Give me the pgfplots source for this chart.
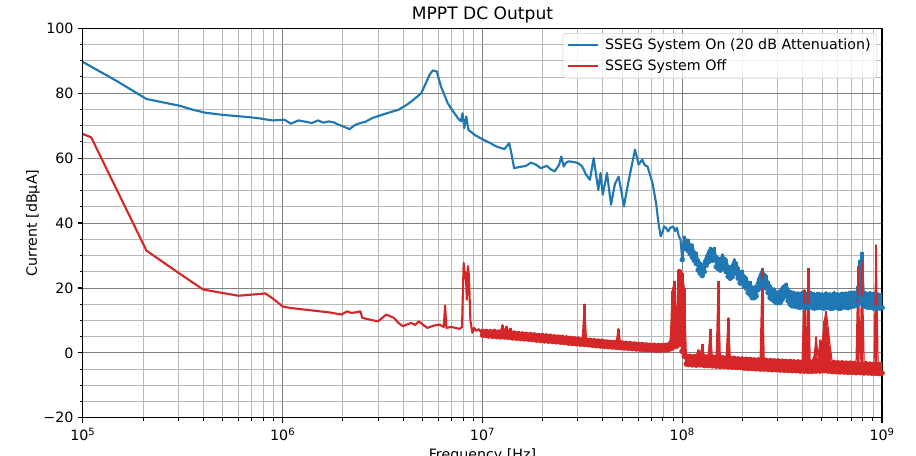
\documentclass[border=0pt]{standalone}
\usepackage{pgfplots}
\pgfplotsset{compat=1.18}
\usepackage{pgfplotstable}
\usepackage{fontspec}
\setmainfont{DejaVu Sans}
\definecolor{mplblue}{HTML}{1F77B4}
\definecolor{mplred}{HTML}{D62728}

% red trace, 10 MHz - 100 MHz: max / min of the trace in each 0.01-decade bin
\pgfplotstableread{
f rmax rmin
1.000e7 7.3 5.5
1.023e7 7.0 5.4
1.047e7 7.3 5.6
1.072e7 6.9 5.2
1.096e7 7.2 5.4
1.122e7 6.8 5.1
1.148e7 7.3 5.5
1.175e7 6.8 5.0
1.202e7 7.1 5.3
1.230e7 6.7 4.9
1.259e7 8.7 5.2
1.288e7 6.7 4.9
1.318e7 8.2 5.0
1.349e7 6.6 4.8
1.380e7 7.6 4.9
1.413e7 6.4 4.6
1.445e7 6.8 4.9
1.479e7 6.3 4.5
1.514e7 6.6 4.7
1.549e7 6.2 4.4
1.585e7 6.5 4.6
1.622e7 6.1 4.3
1.660e7 6.4 4.5
1.698e7 6.0 4.2
1.738e7 6.3 4.4
1.778e7 5.9 4.1
1.820e7 6.2 4.3
1.862e7 5.8 3.9
1.905e7 6.0 4.2
1.950e7 5.7 3.8
1.995e7 6.0 4.1
2.042e7 5.6 3.7
2.089e7 5.9 4.0
2.138e7 5.5 3.6
2.188e7 5.8 3.8
2.239e7 5.4 3.5
2.291e7 5.6 3.7
2.344e7 5.3 3.4
2.399e7 5.5 3.6
2.455e7 5.2 3.3
2.512e7 5.4 3.4
2.570e7 5.0 3.2
2.630e7 5.3 3.3
2.692e7 4.9 3.0
2.754e7 5.1 3.2
2.818e7 4.8 2.9
2.884e7 5.0 3.1
2.951e7 4.7 2.8
3.020e7 4.9 3.0
3.090e7 4.5 2.7
3.162e7 4.7 2.8
3.236e7 15.0 2.6
3.311e7 4.6 2.7
3.388e7 4.3 2.5
3.467e7 4.5 2.6
3.548e7 4.2 2.3
3.631e7 4.4 2.5
3.715e7 4.1 2.2
3.802e7 4.3 2.4
3.890e7 4.0 2.1
3.981e7 4.2 2.3
4.074e7 3.9 2.0
4.169e7 4.0 2.2
4.266e7 3.8 1.9
4.365e7 3.9 2.1
4.467e7 3.7 1.8
4.571e7 3.8 2.0
4.677e7 3.6 1.7
4.786e7 7.5 1.9
4.898e7 3.5 1.6
5.012e7 3.7 1.8
5.129e7 3.4 1.5
5.248e7 3.6 1.7
5.370e7 3.3 1.4
5.495e7 3.5 1.6
5.623e7 3.2 1.3
5.754e7 3.4 1.5
5.888e7 3.1 1.2
6.026e7 3.3 1.4
6.166e7 3.0 1.1
6.310e7 3.2 1.3
6.457e7 2.9 1.0
6.607e7 3.1 1.2
6.761e7 2.8 1.0
6.918e7 3.0 1.1
7.079e7 2.8 0.9
7.244e7 3.0 1.0
7.413e7 2.7 0.8
7.586e7 2.9 1.0
7.762e7 2.7 0.8
7.943e7 2.9 1.0
8.128e7 2.8 0.9
8.318e7 3.0 1.0
8.511e7 2.9 1.0
8.710e7 4.0 1.3
8.913e7 19.0 1.5
9.120e7 22.0 2.0
9.333e7 8.0 2.0
9.550e7 25.6 2.5
9.772e7 25.6 3.0
1.000e8 24.6 0.5
}\midtable

% both traces, 100 MHz - 1 GHz: max / min of each trace in each 0.01-decade bin
\pgfplotstableread{
f bmax bmin rmax rmin
1.000e8 31.0 28.7 24.6 0.5
1.023e8 36.0 33.0 20.0 -1.0
1.047e8 35.0 32.0 -0.3 -3.4
1.072e8 35.0 31.5 -0.6 -3.6
1.096e8 33.5 30.5 -0.4 -3.3
1.122e8 33.5 29.5 -0.8 -3.7
1.148e8 31.5 28.5 -0.5 -3.5
1.175e8 31.0 27.5 -0.9 -3.8
1.202e8 29.0 25.5 1.0 -3.4
1.230e8 28.0 24.5 -0.7 -3.7
1.259e8 27.0 23.8 2.6 -3.5
1.288e8 28.5 25.0 -0.8 -3.9
1.318e8 30.0 27.0 -0.6 -3.6
1.349e8 31.5 28.0 -1.0 -3.9
1.380e8 32.5 29.5 7.2 -3.7
1.413e8 32.0 28.5 -0.9 -4.0
1.445e8 32.5 29.0 -0.7 -3.8
1.479e8 30.0 26.5 -1.1 -4.1
1.514e8 29.5 26.0 22.0 -3.9
1.549e8 29.0 25.5 -1.0 -4.2
1.585e8 30.5 27.0 -0.8 -3.9
1.622e8 29.5 26.0 -1.2 -4.2
1.660e8 29.0 25.0 -0.9 -4.0
1.698e8 27.0 23.5 10.8 -4.3
1.738e8 26.5 23.0 -1.1 -4.1
1.778e8 27.5 23.5 -1.3 -4.4
1.820e8 29.0 25.5 -1.0 -4.2
1.862e8 28.0 24.5 -1.4 -4.5
1.905e8 26.5 23.0 -1.2 -4.3
1.950e8 25.0 21.5 -1.5 -4.5
1.995e8 25.5 22.0 -1.2 -4.4
2.042e8 24.0 20.5 -1.6 -4.7
2.089e8 23.5 20.0 -1.3 -4.5
2.138e8 22.0 18.5 -1.6 -4.8
2.188e8 22.0 18.0 -1.4 -4.6
2.239e8 20.5 17.0 -1.7 -4.8
2.291e8 20.5 17.0 -1.5 -4.7
2.344e8 21.0 17.5 -1.8 -4.9
2.399e8 23.0 19.5 -1.5 -4.7
2.455e8 24.5 20.5 -1.8 -5.0
2.512e8 26.0 22.0 25.6 -4.8
2.570e8 24.5 20.5 -1.9 -5.0
2.630e8 24.0 20.0 -1.6 -4.8
2.692e8 22.0 18.5 -2.0 -5.1
2.754e8 21.0 17.0 -1.7 -4.9
2.818e8 20.0 16.5 -2.0 -5.2
2.884e8 20.0 16.0 -1.8 -5.0
2.951e8 19.0 15.5 -2.1 -5.2
3.020e8 19.0 15.5 -1.8 -5.1
3.090e8 19.5 15.5 -2.2 -5.3
3.162e8 20.5 16.5 -1.9 -5.1
3.236e8 21.0 17.5 -2.2 -5.4
3.311e8 21.5 17.5 -2.0 -5.2
3.388e8 20.0 16.0 -2.3 -5.4
3.467e8 19.2 15.0 -2.0 -5.3
3.548e8 19.0 14.5 -2.3 -5.5
3.631e8 18.9 14.5 -2.1 -5.3
3.715e8 18.5 14.3 -2.4 -5.5
3.802e8 18.8 14.2 -2.1 -5.4
3.890e8 18.4 14.0 -2.4 -5.6
3.981e8 19.0 14.5 -2.2 -5.4
4.074e8 18.5 14.2 19.5 -5.6
4.169e8 18.7 14.0 -2.3 -5.5
4.266e8 18.3 14.0 26.0 -5.7
4.365e8 19.0 14.3 -2.3 -5.5
4.467e8 18.5 14.0 -2.5 -5.7
4.571e8 18.5 13.8 -1.0 -5.5
4.677e8 18.1 13.9 5.0 -5.6
4.786e8 18.7 14.0 -1.5 -5.4
4.898e8 18.3 14.2 4.0 -5.6
5.012e8 18.5 13.9 3.0 -5.4
5.129e8 18.0 13.8 9.7 -5.5
5.248e8 18.8 14.0 12.8 -5.3
5.370e8 18.3 14.1 8.0 -5.6
5.495e8 18.5 13.8 2.0 -5.5
5.623e8 18.1 13.7 -2.5 -5.8
5.754e8 18.9 14.0 -2.3 -5.6
5.888e8 18.4 14.2 -2.6 -5.8
6.026e8 18.5 13.8 -2.4 -5.7
6.166e8 18.2 13.7 -2.7 -5.9
6.310e8 18.7 14.0 -2.4 -5.7
6.457e8 18.5 14.3 -2.7 -5.9
6.607e8 18.8 14.1 -2.5 -5.8
6.761e8 18.3 13.9 -2.8 -6.0
6.918e8 19.0 14.2 -2.5 -5.8
7.079e8 18.6 14.4 -2.8 -6.0
7.244e8 19.1 14.5 -2.6 -5.9
7.413e8 18.7 14.6 -2.9 -6.1
7.586e8 20.5 15.0 26.7 -5.9
7.762e8 28.5 17.0 -2.9 -6.1
7.943e8 31.0 16.0 28.2 -6.0
8.128e8 19.0 14.5 -2.9 -6.2
8.318e8 18.7 14.3 -2.7 -6.0
8.511e8 18.5 14.0 -3.0 -6.2
8.710e8 18.9 14.2 -2.8 -6.1
8.913e8 18.4 14.0 -3.1 -6.3
9.120e8 18.7 13.8 -2.8 -6.1
9.333e8 18.3 13.7 33.3 -6.3
9.550e8 18.5 13.9 -2.9 -6.2
9.772e8 18.1 13.8 -3.1 -6.4
1.000e9 18.3 13.9 -2.9 -6.2
}\hitable

\begin{document}
\begin{tikzpicture}
\begin{axis}[
  name=ax,
  scale only axis,
  width=640pt, height=312pt,
  xmode=log, log basis x=10,
  xmin=1e5, xmax=1e9, ymin=-20, ymax=100,
  xtick={1e5,1e6,1e7,1e8,1e9},
  xticklabels={10\textsuperscript{5},10\textsuperscript{6},10\textsuperscript{7},10\textsuperscript{8},10\textsuperscript{9}},
  minor xtick={2e5,3e5,4e5,5e5,6e5,7e5,8e5,9e5,2e6,3e6,4e6,5e6,6e6,7e6,8e6,9e6,2e7,3e7,4e7,5e7,6e7,7e7,8e7,9e7,2e8,3e8,4e8,5e8,6e8,7e8,8e8,9e8},
  ytick={-20,0,20,40,60,80,100},
  yticklabels={−20,0,20,40,60,80,100},
  minor y tick num=3,
  grid=both,
  major grid style={black!50, line width=0.7pt},
  minor grid style={black!28, line width=0.55pt},
  tick pos=left, tick align=outside,
  major tick length=4pt, minor tick length=2.3pt,
  major tick style={black, line width=0.9pt},
  minor tick style={black, line width=0.7pt},
  axis line style={line width=0.9pt},
  title={MPPT DC Output},
  title style={font=\fontsize{13.7}{16}\selectfont, yshift=-5.5pt},
  xlabel={Frequency [Hz]},
  ylabel={Current [dBµA]},
  xticklabel style={yshift=-0.5pt},
  tick label style={font=\fontsize{11.4}{13.5}\selectfont},
  label style={font=\fontsize{11.4}{13.5}\selectfont},
  ylabel style={yshift=-4pt},
  legend style={at={(1,1)}, anchor=north east, xshift=-4pt, yshift=-4pt,
    draw=black!20, fill=white, fill opacity=0.8, text opacity=1,
    rounded corners=2.5pt, font=\fontsize{11.4}{13.5}\selectfont,
    inner xsep=3pt, inner ysep=2.5pt, row sep=2.5pt},
  legend cell align=left,
  legend image code/.code={\draw[#1, line width=1.7pt] (0pt,0pt) -- (24pt,0pt); \path (27pt,0pt);},
  every axis plot/.append style={line join=round, no markers},
]
\addplot[mplblue, line width=1.7pt] coordinates {
(1e5,89.6) (1.5e5,83.5) (2.08e5,78.2) (2.5e5,77.2) (3.06e5,76.1) (3.5e5,75.0) (4.07e5,74.0) (5.03e5,73.3) (6.0e5,72.9) (6.8e5,72.6) (7.5e5,72.3) (8.9e5,71.6) (1.02e6,71.8) (1.1e6,70.6) (1.2e6,71.6) (1.3e6,71.2) (1.4e6,70.8) (1.5e6,71.6) (1.6e6,70.9) (1.7e6,71.3) (1.8e6,71.0) (1.9e6,70.3) (2.0e6,69.8) (2.16e6,68.9) (2.3e6,70.2) (2.45e6,70.8) (2.6e6,71.2) (2.8e6,72.3) (3.1e6,73.2) (3.4e6,74.0) (3.8e6,74.9) (4.2e6,76.5) (4.5e6,77.9) (4.94e6,80.0) (5.2e6,83.0) (5.45e6,85.8) (5.64e6,87.0) (5.9e6,86.7) (6.2e6,82.0) (6.7e6,76.9) (7.2e6,74.0) (7.6e6,72.0) (7.8e6,71.3) (7.95e6,73.8) (8.1e6,69.2) (8.3e6,72.8) (8.5e6,68.7) (8.8e6,68.0) (9.1e6,67.2) (1.0e7,65.8) (1.08e7,64.8) (1.17e7,63.6) (1.25e7,63.0) (1.29e7,62.8) (1.36e7,64.6) (1.39e7,62.0) (1.44e7,56.9) (1.55e7,57.3) (1.65e7,57.6) (1.75e7,58.6) (1.85e7,58.0) (1.96e7,56.9) (2.1e7,57.6) (2.2e7,56.5) (2.3e7,55.9) (2.42e7,58.0) (2.48e7,60.5) (2.55e7,57.4) (2.62e7,58.6) (2.7e7,59.0) (2.85e7,58.8) (3.0e7,58.5) (3.15e7,57.5) (3.3e7,54.9) (3.45e7,53.3) (3.6e7,60.0) (3.72e7,54.0) (3.8e7,50.2) (3.9e7,55.4) (4.0e7,48.7) (4.2e7,55.4) (4.4e7,45.6) (4.6e7,52.0) (4.8e7,54.3) (4.95e7,50.0) (5.1e7,45.1) (5.4e7,53.3) (5.6e7,58.0) (5.8e7,62.6) (6.05e7,58.0) (6.3e7,59.5) (6.5e7,57.8) (6.7e7,57.4) (7.1e7,52.3) (7.4e7,46.0) (7.6e7,40.0) (7.8e7,35.9) (8.0e7,37.5) (8.1e7,39.0) (8.3e7,38.5) (8.5e7,37.4) (8.7e7,38.5) (9.0e7,38.9) (9.2e7,37.5) (9.4e7,38.5) (9.6e7,36.0) (9.8e7,34.9) (1.0e8,28.7)
};
\addlegendentry{SSEG System On (20 dB Attenuation)}
\addplot[mplblue, line width=1pt, forget plot] table[x=f, y=bmax] {\hitable};
\addplot[mplblue, line width=1pt, forget plot] table[x=f, y=bmin] {\hitable};
\addplot[mplblue, forget plot, only marks, mark=none,
  error bars/.cd, y dir=plus, y explicit, error mark=none,
  error bar style={draw=mplblue, line width=2.6pt, solid}]
  table[x=f, y=bmin, y error plus expr=\thisrow{bmax}-\thisrow{bmin}] {\hitable};
\addplot[mplred, line width=1.7pt] coordinates {
(1e5,67.4) (1.1e5,66.4) (2.08e5,31.5) (3e5,24.7) (4e5,19.5) (6e5,17.6) (8.2e5,18.3) (8.9e5,16.8) (1e6,14.3) (1.1e6,13.8) (1.3e6,13.3) (1.53e6,12.8) (1.7e6,12.5) (1.97e6,11.8) (2.1e6,12.8) (2.2e6,12.3) (2.33e6,12.5) (2.45e6,12.8) (2.5e6,10.8) (2.7e6,10.3) (3.0e6,9.7) (3.3e6,11.8) (3.6e6,10.8) (3.8e6,9.2) (4.0e6,8.2) (4.2e6,8.8) (4.4e6,9.2) (4.6e6,8.6) (4.8e6,9.7) (5.0e6,8.8) (5.3e6,7.7) (5.7e6,8.4) (6.1e6,8.7) (6.4e6,8.0) (6.5e6,14.6) (6.6e6,7.7) (7.0e6,8.0) (7.4e6,7.6) (7.7e6,7.4) (7.9e6,8.0) (8.05e6,27.7) (8.15e6,23.0) (8.25e6,24.8) (8.35e6,16.4) (8.45e6,26.7) (8.55e6,24.0) (8.7e6,10.0) (8.9e6,6.2) (9.1e6,7.7) (9.3e6,6.8) (9.6e6,7.3) (9.8e6,6.5) (1.0e7,6.4)
};
\addlegendentry{SSEG System Off}
\addplot[mplred, line width=1pt, forget plot] table[x=f, y=rmax] {\midtable};
\addplot[mplred, line width=1pt, forget plot] table[x=f, y=rmin] {\midtable};
\addplot[mplred, forget plot, only marks, mark=none,
  error bars/.cd, y dir=plus, y explicit, error mark=none,
  error bar style={draw=mplred, line width=2.2pt, solid}]
  table[x=f, y=rmin, y error plus expr=\thisrow{rmax}-\thisrow{rmin}] {\midtable};
\addplot[mplred, line width=1pt, forget plot] table[x=f, y=rmax] {\hitable};
\addplot[mplred, line width=1pt, forget plot] table[x=f, y=rmin] {\hitable};
\addplot[mplred, forget plot, only marks, mark=none,
  error bars/.cd, y dir=plus, y explicit, error mark=none,
  error bar style={draw=mplred, line width=2.2pt, solid}]
  table[x=f, y=rmin, y error plus expr=\thisrow{rmax}-\thisrow{rmin}] {\hitable};
\end{axis}
\pgfresetboundingbox
\path[use as bounding box] ([xshift=-66.4pt,yshift=-30.2pt]ax.south west) rectangle ([xshift=27.2pt,yshift=22.6pt]ax.north east);
\end{tikzpicture}
\end{document}
